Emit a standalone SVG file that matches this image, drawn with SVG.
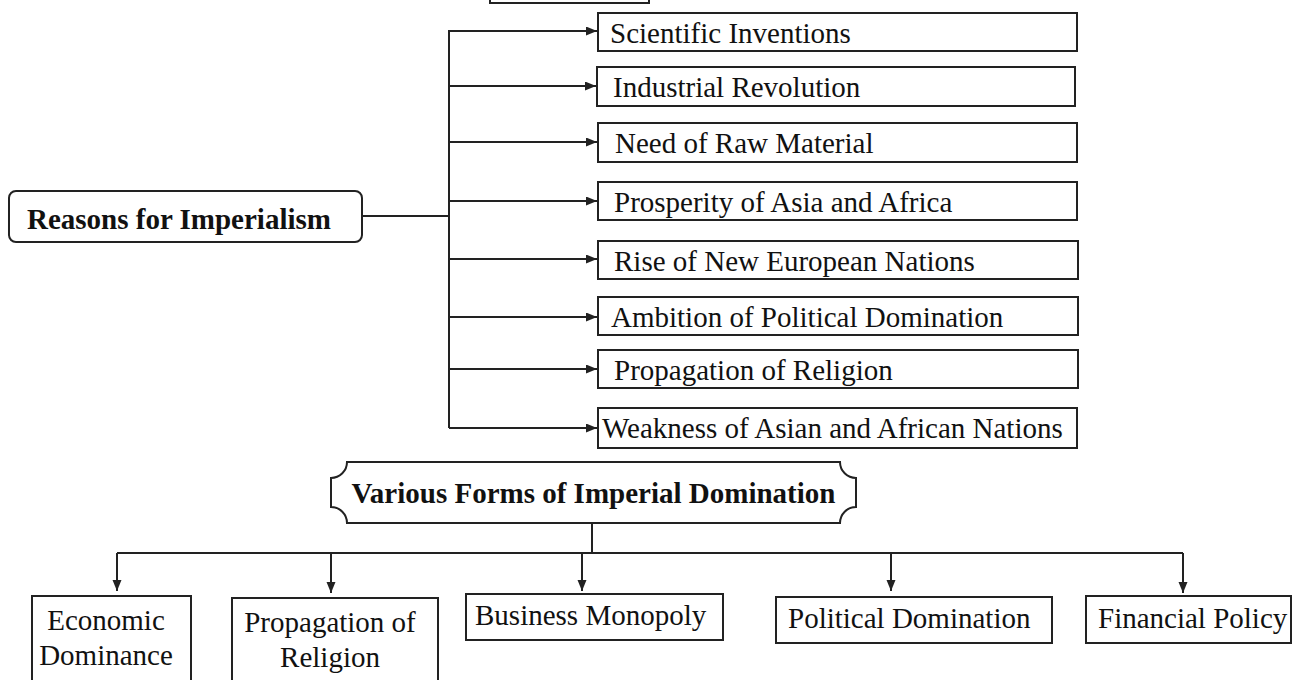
<svg xmlns="http://www.w3.org/2000/svg" width="1292" height="680" viewBox="0 0 1292 680">
<style>
.box{fill:#fff;stroke:#222;stroke-width:2}
.ln{fill:none;stroke:#222;stroke-width:2}
.t{font-family:"Liberation Serif","Times New Roman",serif;font-size:29px;fill:#111}
.b{font-weight:bold}
</style>
<defs>
<marker id="ah" markerUnits="userSpaceOnUse" markerWidth="12" markerHeight="10" refX="11" refY="4.5" orient="auto">
<path d="M0,0 L11,4.5 L0,9 z" fill="#222"/>
</marker>
</defs>
<rect width="1292" height="680" fill="#fff"/>
<g id="connectors">
<line class="ln" x1="362" y1="216" x2="449" y2="216"/>
<line class="ln" x1="449" y1="30" x2="449" y2="428"/>
<line class="ln" x1="449" y1="31" x2="597" y2="31" marker-end="url(#ah)"/>
<line class="ln" x1="449" y1="86" x2="596" y2="86" marker-end="url(#ah)"/>
<line class="ln" x1="449" y1="142" x2="597" y2="142" marker-end="url(#ah)"/>
<line class="ln" x1="449" y1="201" x2="597" y2="201" marker-end="url(#ah)"/>
<line class="ln" x1="449" y1="259" x2="597" y2="259" marker-end="url(#ah)"/>
<line class="ln" x1="449" y1="317" x2="597" y2="317" marker-end="url(#ah)"/>
<line class="ln" x1="449" y1="369" x2="597" y2="369" marker-end="url(#ah)"/>
<line class="ln" x1="449" y1="428" x2="597" y2="428" marker-end="url(#ah)"/>
<line class="ln" x1="592" y1="523" x2="592" y2="553"/>
<line class="ln" x1="117" y1="553" x2="1183" y2="553"/>
<line class="ln" x1="117" y1="553" x2="117" y2="591" marker-end="url(#ah)"/>
<line class="ln" x1="331" y1="553" x2="331" y2="593" marker-end="url(#ah)"/>
<line class="ln" x1="582" y1="553" x2="582" y2="591" marker-end="url(#ah)"/>
<line class="ln" x1="891" y1="553" x2="891" y2="591" marker-end="url(#ah)"/>
<line class="ln" x1="1183" y1="553" x2="1183" y2="593" marker-end="url(#ah)"/>
</g>
<g id="top-box"><rect class="box" x="490" y="-20" width="159" height="23"/></g>
<g id="reasons"><rect class="box" x="9" y="191" width="353" height="51" rx="7"/><text class="t b" x="27" y="229">Reasons for Imperialism</text></g>
<g id="r1"><rect class="box" x="598" y="13" width="479" height="38"/><text class="t" x="610" y="43">Scientific Inventions</text></g>
<g id="r2"><rect class="box" x="597" y="67" width="478" height="39"/><text class="t" x="613" y="97">Industrial Revolution</text></g>
<g id="r3"><rect class="box" x="598" y="123" width="479" height="39"/><text class="t" x="615" y="153">Need of Raw Material</text></g>
<g id="r4"><rect class="box" x="598" y="182" width="479" height="38"/><text class="t" x="614" y="212">Prosperity of Asia and Africa</text></g>
<g id="r5"><rect class="box" x="598" y="241" width="480" height="38"/><text class="t" x="614" y="271">Rise of New European Nations</text></g>
<g id="r6"><rect class="box" x="598" y="297" width="480" height="38"/><text class="t" x="611" y="327">Ambition of Political Domination</text></g>
<g id="r7"><rect class="box" x="598" y="350" width="480" height="38"/><text class="t" x="614" y="380">Propagation of Religion</text></g>
<g id="r8"><rect class="box" x="598" y="408" width="479" height="40"/><text class="t" x="602" y="438">Weakness of Asian and African Nations</text></g>
<g id="forms">
<path class="box" d="M347,462 L840,462 A16,16 0 0 0 856,478 L856,507 A16,16 0 0 0 840,523 L347,523 A16,16 0 0 0 331,507 L331,478 A16,16 0 0 0 347,462 Z"/>
<text class="t b" x="593.5" y="503" text-anchor="middle">Various Forms of Imperial Domination</text>
</g>
<g id="b1"><rect class="box" x="32" y="596" width="159" height="100"/><text class="t" x="106" y="630" text-anchor="middle">Economic</text><text class="t" x="106" y="665" text-anchor="middle">Dominance</text></g>
<g id="b2"><rect class="box" x="232" y="598" width="206" height="100"/><text class="t" x="330" y="632" text-anchor="middle">Propagation of</text><text class="t" x="330" y="667" text-anchor="middle">Religion</text></g>
<g id="b3"><rect class="box" x="466" y="594" width="257" height="46"/><text class="t" x="475" y="625">Business Monopoly</text></g>
<g id="b4"><rect class="box" x="776" y="597" width="276" height="46"/><text class="t" x="788" y="628">Political Domination</text></g>
<g id="b5"><rect class="box" x="1086" y="596" width="205" height="47"/><text class="t" x="1098" y="628">Financial Policy</text></g>
</svg>
